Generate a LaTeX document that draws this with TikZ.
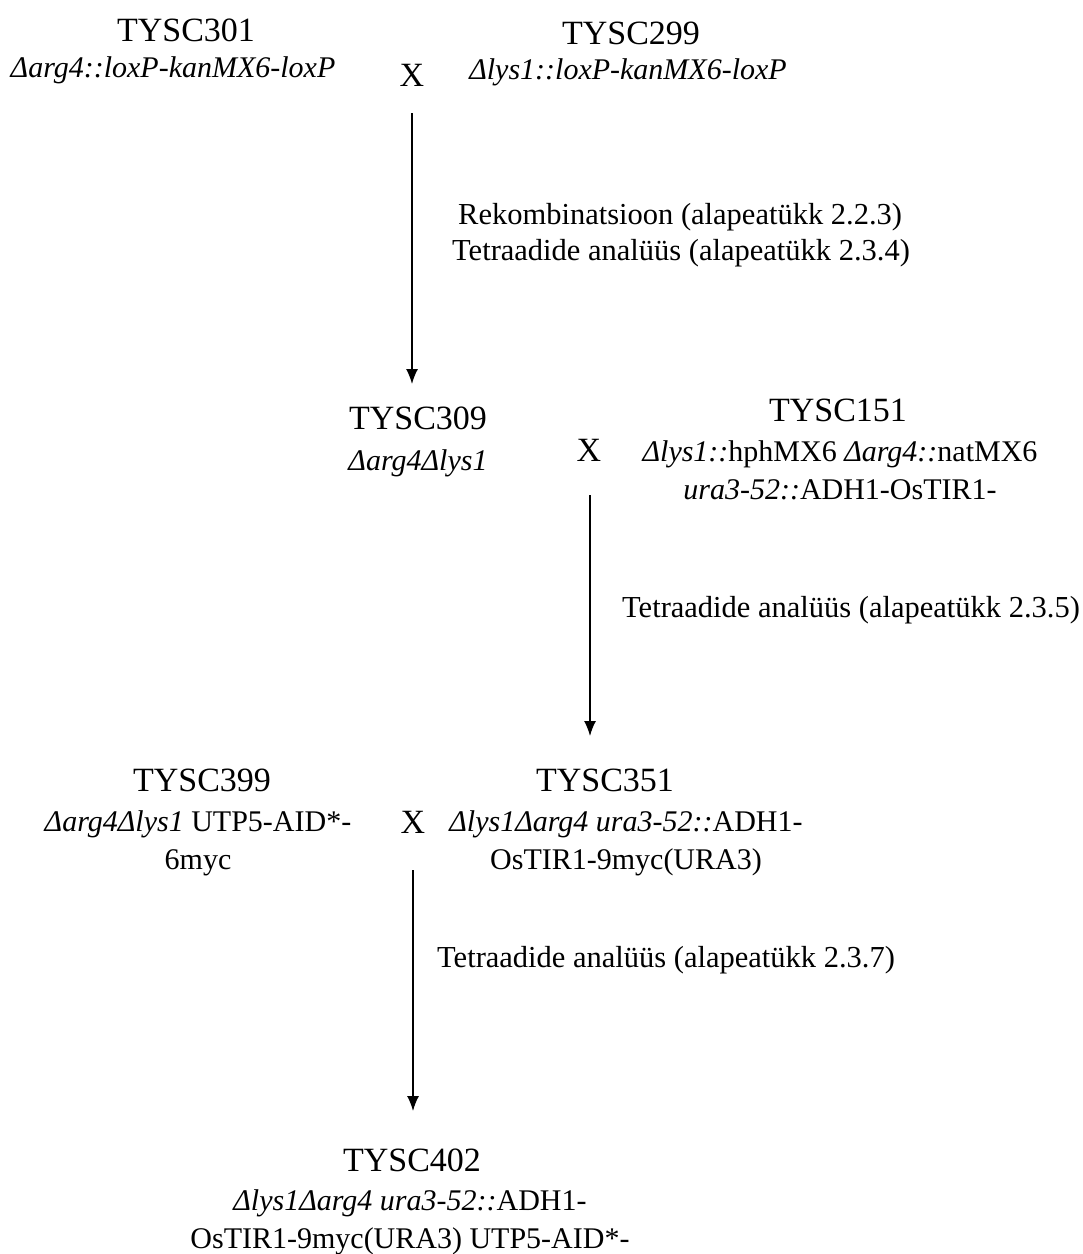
\documentclass[tikz,border=0pt]{standalone}
\usepackage{fontspec}
\setmainfont{Liberation Serif}[ItalicFont={Liberation Serif Italic}]
\usetikzlibrary{arrows.meta}
\begin{document}
\begin{tikzpicture}[x=1pt,y=-1pt,
  strain/.style={inner sep=0pt,font=\fontsize{34}{38}\selectfont},
  geno/.style={inner sep=0pt,align=center,font=\fontsize{30}{38}\selectfont},
  cross/.style={inner sep=0pt,font=\fontsize{34}{38}\selectfont},
  lab/.style={inner sep=0pt,anchor=west,align=left,font=\fontsize{30.5}{36}\selectfont},
  arr/.style={line width=1.4pt,-{Latex[length=15pt,width=12pt]}}]
\useasboundingbox (0,0) rectangle (1083,1254);
% row 1
\node[strain] (t301) at (186,30) {TYSC301};
\node[geno] (g301) at (173,70) {\textit{Δarg4::loxP-kanMX6-loxP}};
\node[cross] (x1) at (412,75) {X};
\node[strain] (t299) at (631,33) {TYSC299};
\node[geno] (g299) at (628,72) {\textit{Δlys1::loxP-kanMX6-loxP}};
\coordinate (a1s) at (412,113);
\coordinate (a1e) at (412,384);
\draw[arr] (a1s) -- (a1e);
\node[lab] (l1) at (452,235) {\hspace*{6pt}Rekombinatsioon (alapeatükk 2.2.3)\\Tetraadide analüüs (alapeatükk 2.3.4)};
% row 2
\node[strain] (t309) at (418,418) {TYSC309};
\node[geno] (g309) at (418,463) {\textit{Δarg4Δlys1}};
\node[cross] (x2) at (589,450) {X};
\node[strain] (t151) at (838,410) {TYSC151};
\node[geno] (g151) at (840,470) {\textit{Δlys1::}hphMX6 \textit{Δarg4::}natMX6\\\textit{ura3-52::}ADH1-OsTIR1-};
\coordinate (a2s) at (590,495);
\coordinate (a2e) at (590,736);
\draw[arr] (a2s) -- (a2e);
\node[lab] (l2) at (622,610) {Tetraadide analüüs (alapeatükk 2.3.5)};
% row 3
\node[strain] (t399) at (202,780) {TYSC399};
\node[geno] (g399) at (198,843) {\textit{Δarg4Δlys1} UTP5-AID*-\\6myc};
\node[cross] (x3) at (413,822) {X};
\node[strain] (t351) at (605,780) {TYSC351};
\node[geno] (g351) at (626,843) {\textit{Δlys1Δarg4 ura3-52::}ADH1-\\OsTIR1-9myc(URA3)};
\coordinate (a3s) at (413,870);
\coordinate (a3e) at (413,1111);
\draw[arr] (a3s) -- (a3e);
\node[lab] (l3) at (437,960) {Tetraadide analüüs (alapeatükk 2.3.7)};
% row 4
\node[strain] (t402) at (412,1160) {TYSC402};
\node[geno] (g402) at (410,1222) {\textit{Δlys1Δarg4 ura3-52::}ADH1-\\OsTIR1-9myc(URA3) UTP5-AID*-};
\end{tikzpicture}
\end{document}
